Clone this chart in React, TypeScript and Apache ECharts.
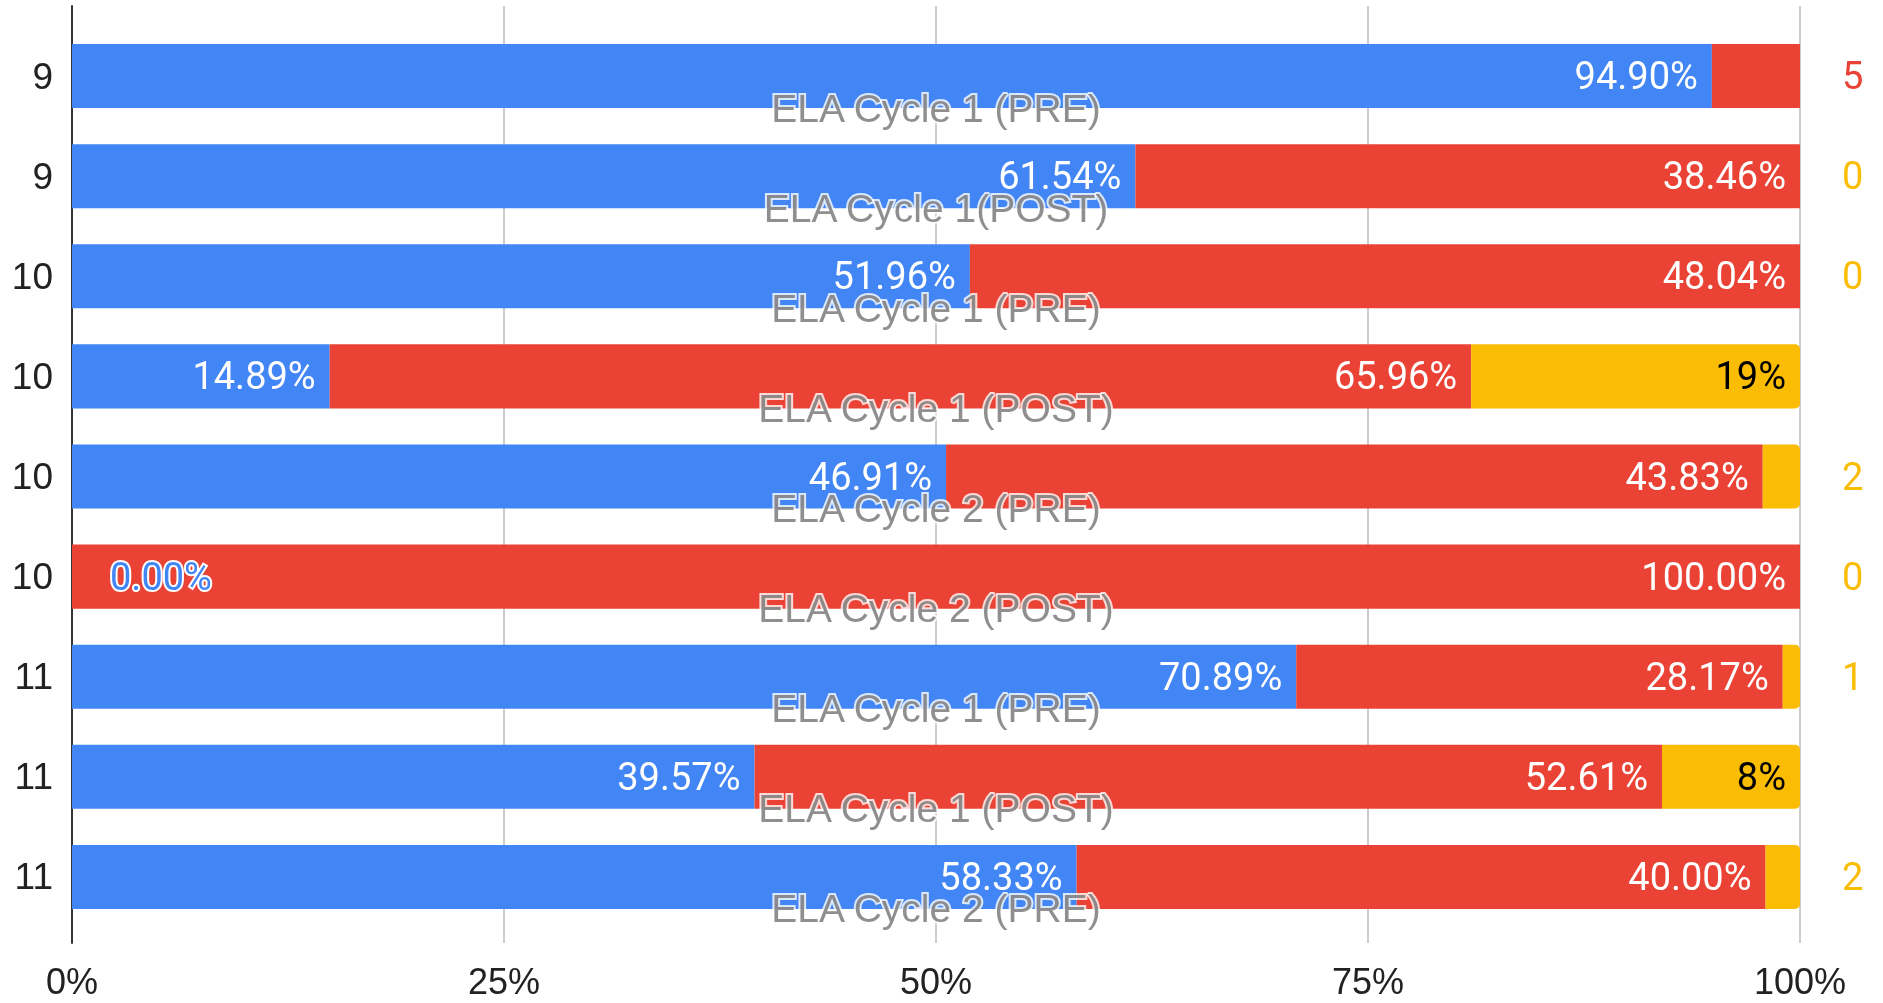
import React, { useEffect, useRef } from "react";
import * as echarts from "echarts";

const yLabels = ["9", "9", "10", "10", "10", "10", "11", "11", "11"];
const cycleLabels = [
  "ELA Cycle 1 (PRE)",
  "ELA Cycle 1(POST)",
  "ELA Cycle 1 (PRE)",
  "ELA Cycle 1 (POST)",
  "ELA Cycle 2 (PRE)",
  "ELA Cycle 2 (POST)",
  "ELA Cycle 1 (PRE)",
  "ELA Cycle 1 (POST)",
  "ELA Cycle 2 (PRE)",
];
const blueVals = [94.9, 61.54, 51.96, 14.89, 46.91, 0, 70.89, 39.57, 58.33];
const redVals = [5.1, 38.46, 48.04, 65.96, 43.83, 100, 28.17, 52.61, 40.0];
const orangeVals: (number | null)[] = [null, 0, 0, 19, 2, 0, 1, 8, 2];
const xTicks = [0, 25, 50, 75, 100];

const BLUE = "#4285f4";
const RED = "#ea4335";
const ORANGE = "#fbbc04";
const LABEL_FONT = "Roboto";
const LABEL_SIZE = 38;

export default function App() {
  const ref = useRef<HTMLDivElement>(null);
  useEffect(() => {
    document.body.style.margin = "0";
    const chart = echarts.init(ref.current!, null, { renderer: "svg" });
    const totals = blueVals.map((b, i) => b + redVals[i] + (orangeVals[i] ?? 0));
    const pct = (v: number, i: number) => (v / totals[i]) * 100;

    const outsideLabel = (text: string, color: string) => ({
      show: true,
      position: "right",
      distance: 42,
      formatter: text,
      color,
      fontFamily: LABEL_FONT,
      fontSize: LABEL_SIZE,
    });
    const insideLabel = (text: string, color: string) => ({
      show: true,
      position: "insideRight",
      distance: 14,
      formatter: text,
      color,
      fontFamily: LABEL_FONT,
      fontSize: LABEL_SIZE,
    });

    const blueData = blueVals.map((v, i) => {
      if (v === 0) {
        return {
          value: pct(v, i),
          label: {
            show: true,
            position: "right",
            distance: 38,
            formatter: v.toFixed(2) + "%",
            color: BLUE,
            textBorderColor: "#ffffff",
            textBorderWidth: 4,
            fontFamily: LABEL_FONT,
            fontSize: LABEL_SIZE,
          },
        };
      }
      return { value: pct(v, i), label: insideLabel(v.toFixed(2) + "%", "#ffffff") };
    });

    const redData = redVals.map((v, i) => {
      const p = pct(v, i);
      if (p < 8) return { value: p, label: outsideLabel(String(Math.round(v)), RED) };
      return { value: p, label: insideLabel(v.toFixed(2) + "%", "#ffffff") };
    });

    const orangeData = orangeVals.map((v, i) => {
      if (v === null) return { value: null as any, label: { show: false } };
      const p = pct(v, i);
      if (p < 5) return { value: p, label: outsideLabel(String(v), ORANGE) };
      return { value: p, label: insideLabel(v + "%", "#000000") };
    });

    const overlayData = cycleLabels.map((_, i) => [50, i]);

    chart.setOption({
      animation: false,
      grid: [
        { left: 72, right: 83, top: 26, bottom: 76 },
        { left: 72, right: 83, top: 6, bottom: 60 },
      ],
      xAxis: [
        { gridIndex: 0, type: "value", min: 0, max: 100, show: false },
        {
          gridIndex: 1,
          type: "value",
          min: 0,
          max: 100,
          interval: 25,
          axisLine: { show: false },
          axisTick: { show: false },
          splitLine: { show: true, lineStyle: { color: "#cccccc", width: 2 } },
          axisLabel: {
            formatter: (v: number) => (xTicks.includes(v) ? v + "%" : ""),
            color: "#222222",
            fontFamily: "Liberation Sans, Arial",
            fontSize: 36,
            margin: 20,
          },
        },
      ],
      yAxis: [
        {
          gridIndex: 0,
          type: "category",
          inverse: true,
          data: yLabels.map((_, i) => String(i)),
          axisLine: { show: false },
          axisTick: { show: false },
          axisLabel: {
            formatter: (_v: string, i: number) => yLabels[i],
            color: "#222222",
            fontFamily: "Liberation Sans, Arial",
            fontSize: 37,
            margin: 19,
          },
        },
        {
          gridIndex: 1,
          type: "value",
          min: 0,
          max: 1,
          axisLine: { show: true, onZero: false, lineStyle: { color: "#333333", width: 2 } },
          axisTick: { show: false },
          axisLabel: { show: false },
          splitLine: { show: false },
        },
      ],
      series: [
        {
          type: "bar",
          stack: "total",
          barCategoryGap: "36%",
          itemStyle: { color: BLUE },
          data: blueData,
          z: 3,
        },
        {
          type: "bar",
          stack: "total",
          barCategoryGap: "36%",
          itemStyle: { color: RED },
          data: redData,
          z: 3,
        },
        {
          type: "bar",
          stack: "total",
          barCategoryGap: "36%",
          itemStyle: { color: ORANGE, borderRadius: [0, 5, 5, 0] },
          data: orangeData,
          z: 3,
        },
        {
          type: "scatter",
          symbolSize: 0,
          data: overlayData,
          z: 10,
          label: {
            show: true,
            position: "inside",
            offset: [0, 32],
            formatter: (p: any) => cycleLabels[p.dataIndex],
            color: "#737373",
            textBorderColor: "#ffffff",
            textBorderWidth: 4,
            fontFamily: "Liberation Sans, Arial",
            fontSize: 39,
          },
        },
      ],
    });
    return () => chart.dispose();
  }, []);
  return (
    <div
      ref={ref}
      style={{ position: "fixed", left: 0, top: 0, width: 1883, height: 1003 }}
    />
  );
}
